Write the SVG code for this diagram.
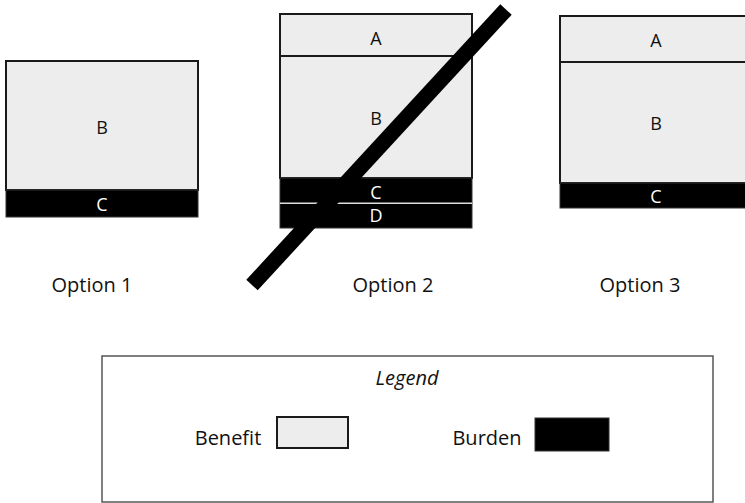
<svg xmlns="http://www.w3.org/2000/svg" width="745" height="503" viewBox="0 0 745 503">
<style>
.ben{fill:#ededed;stroke:#1a1a1a;stroke-width:2}
.bur{fill:#000;stroke:#333;stroke-width:1}
.lbl{font-family:"Open Sans","Noto Sans",sans-serif;font-size:18px;text-anchor:middle;fill:#111}
.wl{fill:#fff}
.opt{font-family:"Open Sans","Noto Sans",sans-serif;font-size:20px;text-anchor:middle;fill:#111}
</style>
<rect width="745" height="503" fill="#fff"/>
<g id="option1">
<rect class="ben" x="6" y="61" width="192" height="129"/>
<rect class="bur" x="6" y="190" width="192" height="27"/>
<text class="lbl" x="102" y="134">B</text>
<text class="lbl wl" x="102" y="211">C</text>
<text class="opt" x="92" y="292">Option 1</text>
</g>
<g id="option2">
<rect class="ben" x="280" y="14" width="192" height="42"/>
<rect class="ben" x="280" y="56" width="192" height="122"/>
<rect class="bur" x="280" y="178" width="192" height="50"/>
<line x1="280" y1="203.3" x2="472" y2="203.3" stroke="#ddd" stroke-width="1.6"/>
<text class="lbl" x="376" y="45">A</text>
<text class="lbl" x="376" y="125">B</text>
<text class="lbl wl" x="376" y="199">C</text>
<text class="lbl wl" x="376" y="222">D</text>
<line x1="252" y1="285" x2="506" y2="9.5" stroke="#000" stroke-width="15.5"/>
<text class="opt" x="393" y="292">Option 2</text>
</g>
<g id="option3">
<rect class="ben" x="560" y="16" width="192" height="46"/>
<rect class="ben" x="560" y="62" width="192" height="121"/>
<rect class="bur" x="560" y="183" width="192" height="25"/>
<text class="lbl" x="656" y="47">A</text>
<text class="lbl" x="656" y="130">B</text>
<text class="lbl wl" x="656" y="203">C</text>
<text class="opt" x="640" y="292">Option 3</text>
</g>
<g id="legend">
<rect x="102" y="356" width="611" height="146" fill="#fff" stroke="#555" stroke-width="1.5"/>
<text x="407" y="385" font-family="'Open Sans','Noto Sans',sans-serif" font-size="20" font-style="italic" text-anchor="middle" fill="#111">Legend</text>
<text class="opt" x="228" y="445">Benefit</text>
<rect class="ben" x="277" y="417" width="71" height="31"/>
<text class="opt" x="487" y="445">Burden</text>
<rect x="535" y="418" width="74" height="33" fill="#000" stroke="#333" stroke-width="1"/>
</g>
<g id="connectors"/>
</svg>
